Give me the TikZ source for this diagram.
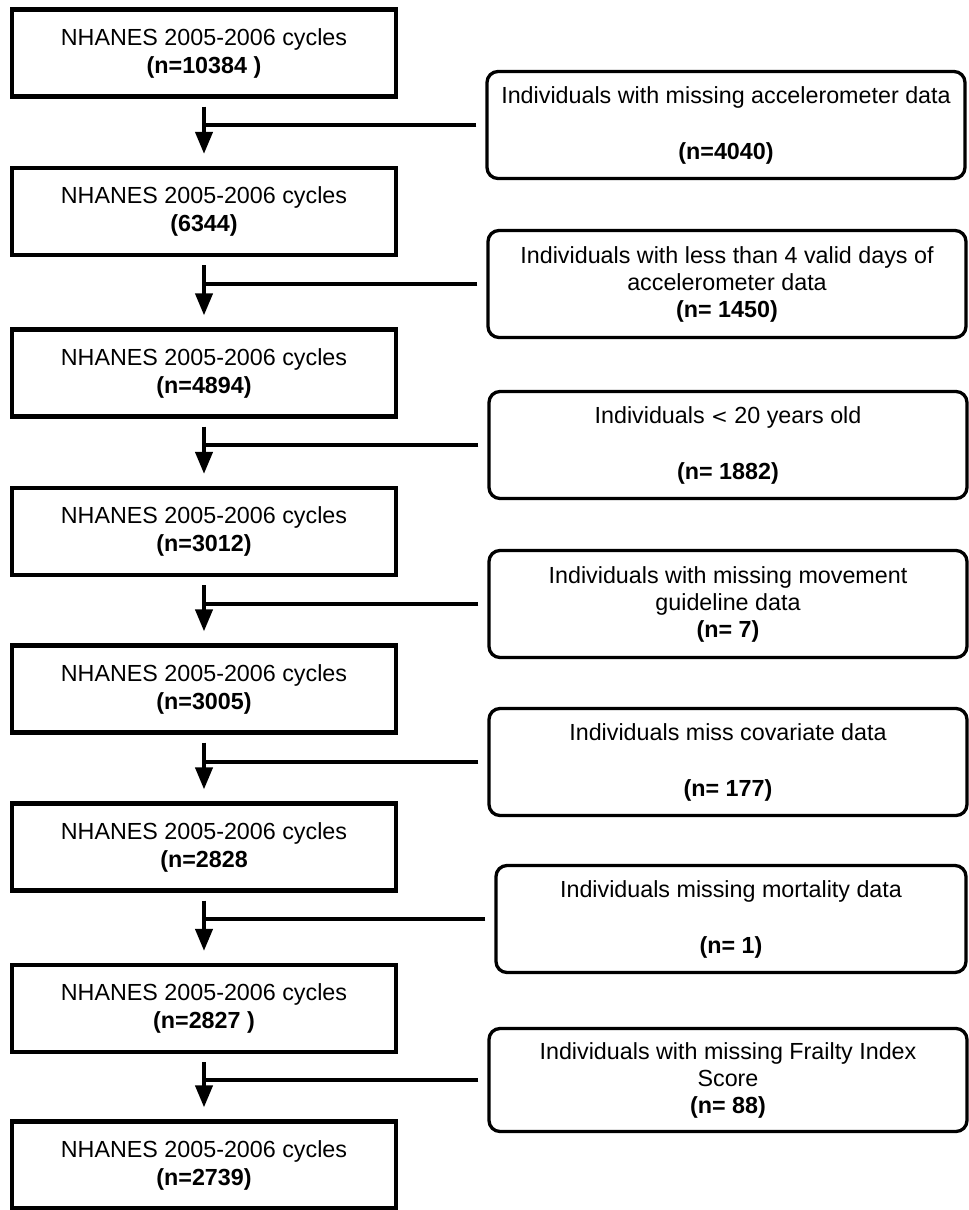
\documentclass[tikz,border=0pt]{standalone}
\usepackage{fontspec}
\setmainfont{Liberation Sans}
\usetikzlibrary{arrows.meta}
\begin{document}
\begin{tikzpicture}[x=1pt,y=-1pt,
  mainbox/.style={draw=black, line width=4.2pt, minimum width=384pt, minimum height=87pt,
    align=center, inner sep=0pt, font=\fontsize{23.3}{28}\selectfont},
  exbox/.style={draw=black, line width=3.3pt, rounded corners=11pt, minimum width=478pt,
    minimum height=107pt, align=center, inner sep=0pt, font=\fontsize{23.3}{27}\selectfont},
  flow/.style={line width=4pt, -{Triangle[length=22pt,width=17pt]}},
  side/.style={line width=3.6pt}]
\useasboundingbox (0,0) rectangle (969,1210);

% main column
\node[mainbox] (L1) at (204,53)     {NHANES 2005-2006 cycles\\\textbf{(n=10384 )}};
\node[mainbox] (L2) at (204,211.5)  {NHANES 2005-2006 cycles\\\textbf{(6344)}};
\node[mainbox] (L3) at (204,373)    {NHANES 2005-2006 cycles\\\textbf{(n=4894)}};
\node[mainbox] (L4) at (204,531.5)  {NHANES 2005-2006 cycles\\\textbf{(n=3012)}};
\node[mainbox] (L5) at (204,689)    {NHANES 2005-2006 cycles\\\textbf{(n=3005)}};
\node[mainbox] (L6) at (204,847)    {NHANES 2005-2006 cycles\\\textbf{(n=2828}};
\node[mainbox] (L7) at (204,1008.5) {NHANES 2005-2006 cycles\\\textbf{(n=2827 )}};
\node[mainbox] (L8) at (204,1165)   {NHANES 2005-2006 cycles\\\textbf{(n=2739)}};

% exclusion boxes
\node[exbox] (R1) at (726,125) {Individuals with missing accelerometer data\\[29pt]\textbf{(n=4040)}};
\node[exbox] (R2) at (727,284) {Individuals with less than 4 valid days of\\accelerometer data\\\textbf{(n= 1450)}};
\node[exbox] (R3) at (728,445) {Individuals {\fontspec{DejaVu Sans}\fontsize{20}{27}\selectfont<} 20 years old\\[29pt]\textbf{(n= 1882)}};
\node[exbox] (R4) at (728,604) {Individuals with missing movement\\guideline data\\\textbf{(n= 7)}};
\node[exbox] (R5) at (728,762) {Individuals miss covariate data\\[29pt]\textbf{(n= 177)}};
\node[exbox, minimum width=470pt] (R6) at (731,919) {Individuals missing mortality data\\[29pt]\textbf{(n= 1)}};
\node[exbox, minimum height=103pt] (R7) at (728,1080) {Individuals with missing Frailty Index\\Score\\\textbf{(n= 88)}};

% flow arrows
\foreach \a/\b in {L1/L2,L2/L3,L3/L4,L4/L5,L5/L6,L6/L7,L7/L8}{
  \draw[flow] ([yshift=-8pt]\a.south) -- ([yshift=12pt]\b.north);
}
% side connectors
\foreach \r/\l in {R1/L1,R2/L2,R3/L3,R4/L4,R5/L5,R6/L6,R7/L7}{
  \draw[side] ([xshift=-9pt]\r.west) -- (\r.west -| \l.south);
}
\end{tikzpicture}
\end{document}
